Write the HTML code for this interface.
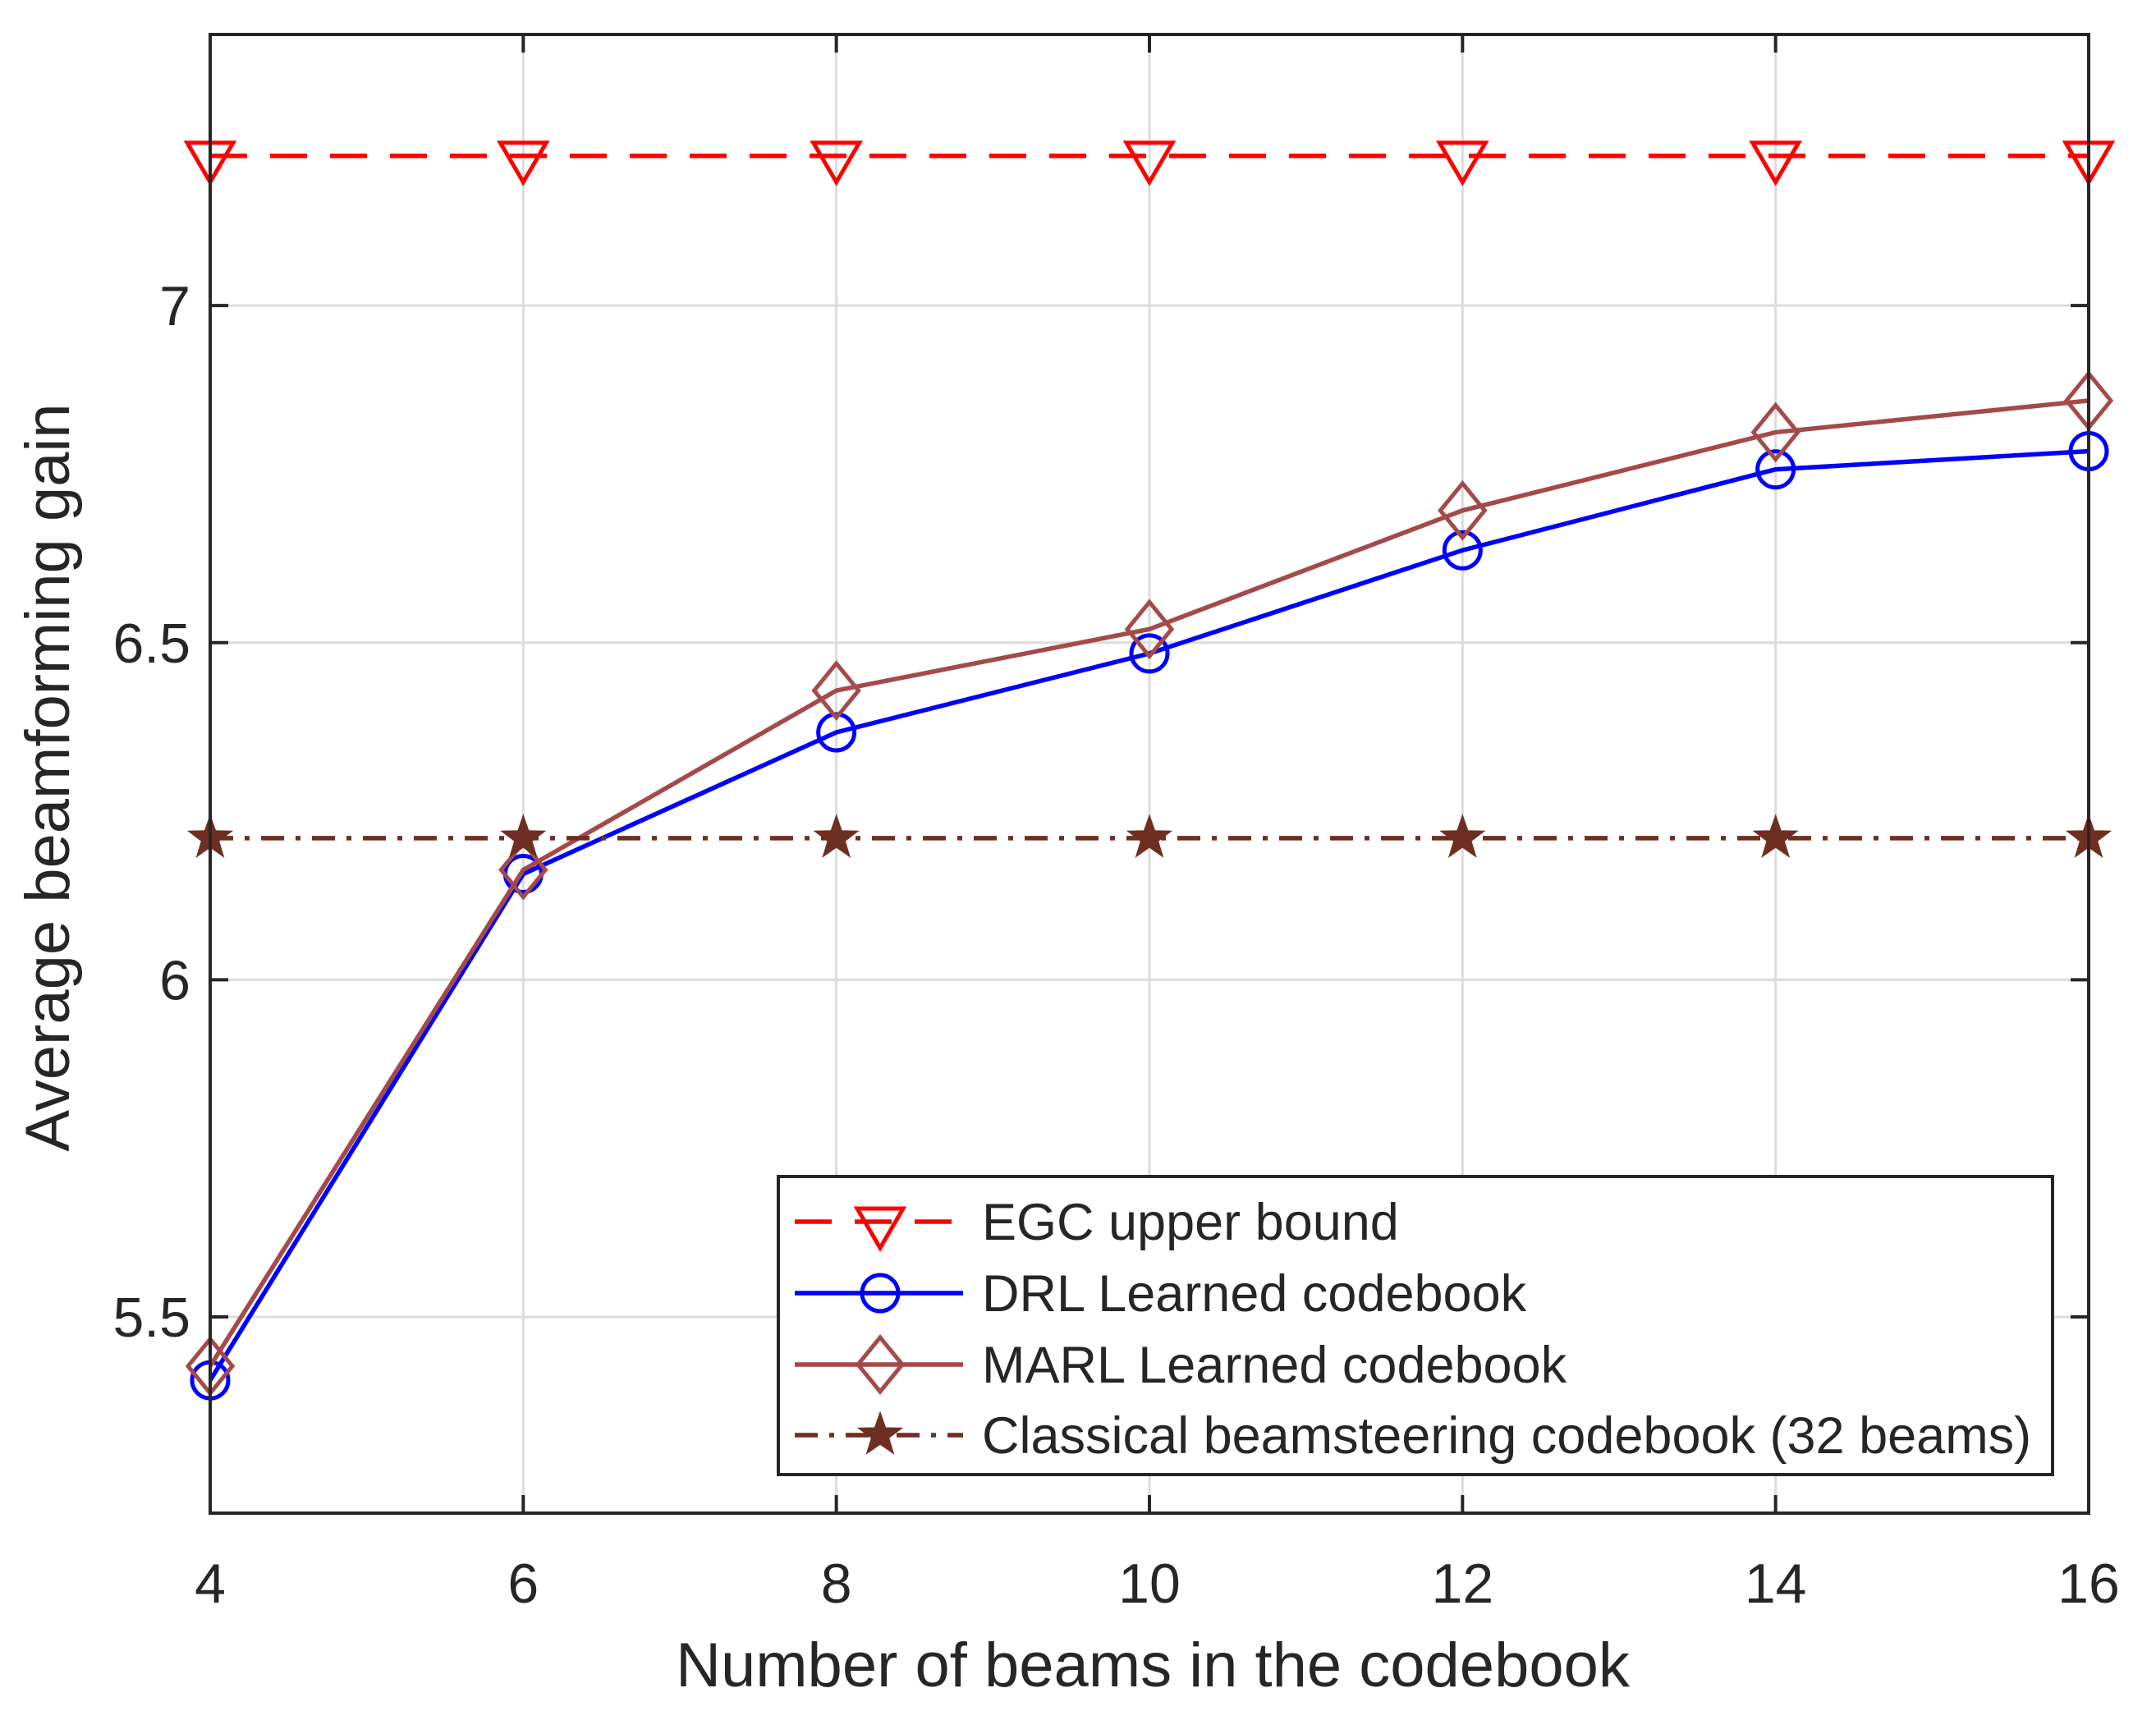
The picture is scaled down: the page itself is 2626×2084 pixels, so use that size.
<!DOCTYPE html>
<html><head><meta charset="utf-8"><style>
body{margin:0;background:#fff}
svg{display:block}
text{font-family:"Liberation Sans",Arial,sans-serif;fill:#262626}
</style></head><body>
<svg id="chart" width="2626" height="2084" xmlns="http://www.w3.org/2000/svg">
<g id="grid"></g>
<g id="series"></g>
<g id="axes"></g>
<text x="1404" y="2054" font-size="76" text-anchor="middle">Number of beams in the codebook</text>
<text transform="translate(84,947) rotate(-90)" font-size="76" text-anchor="middle">Average beamforming gain</text>
<g id="legend"></g>
</svg>
<script>
const xCats=[4,6,8,10,12,14,16];
const yTicks=[5.5,6,6.5,7];
const yTickLabels=["5.5","6","6.5","7"];
const egc=[7.222,7.222,7.222,7.222,7.222,7.222,7.222];
const drl=[5.406,6.157,6.367,6.484,6.637,6.757,6.784];
const marl=[5.427,6.163,6.429,6.520,6.696,6.812,6.859];
const classical=[6.21,6.21,6.21,6.21,6.21,6.21,6.21];
const legendLabels=["EGC upper bound","DRL Learned codebook","MARL Learned codebook","Classical beamsteering codebook (32 beams)"];

const L=256,R=2544,T=42,B=1843,xmin=4,xmax=16,ymin=5.209,ymax=7.402;
const sx=v=>L+(v-xmin)/(xmax-xmin)*(R-L);
const sy=v=>B-(v-ymin)/(ymax-ymin)*(B-T);
const NS="http://www.w3.org/2000/svg";
function mk(tag,attrs,parent){const e=document.createElementNS(NS,tag);for(const k in attrs)e.setAttribute(k,attrs[k]);parent.appendChild(e);return e;}
const grid=document.getElementById('grid'),axes=document.getElementById('axes'),ser=document.getElementById('series'),leg=document.getElementById('legend');

xCats.forEach(v=>{
  const g=mk('line',{x1:sx(v),x2:sx(v),y1:T,y2:B,stroke:'#dcdcdc','stroke-width':3},grid);
  
  
  const t=mk('text',{x:sx(v),y:1952,'font-size':68,'text-anchor':'middle'},axes);
  t.textContent=v;
  
  
  mk('line',{x1:sx(v),x2:sx(v),y1:B,y2:B-22,stroke:'#262626','stroke-width':4},axes);
  mk('line',{x1:sx(v),x2:sx(v),y1:T,y2:T+22,stroke:'#262626','stroke-width':4},axes);
});
yTicks.forEach((v,i)=>{
  const g=mk('line',{x1:L,x2:R,y1:sy(v),y2:sy(v),stroke:'#dcdcdc','stroke-width':3},grid);
  
  
  const t=mk('text',{x:L-24,y:sy(v)+24,'font-size':68,'text-anchor':'end'},axes);
  t.textContent=yTickLabels[i];
  
  
  mk('line',{x1:L,x2:L+22,y1:sy(v),y2:sy(v),stroke:'#262626','stroke-width':4},axes);
  mk('line',{x1:R,x2:R-22,y1:sy(v),y2:sy(v),stroke:'#262626','stroke-width':4},axes);
});
const frame=mk('rect',{x:L,y:T,width:R-L,height:B-T,fill:'none',stroke:'#262626','stroke-width':4},axes);



function marker(type,x,y,color,parent){
  if(type==='tri') return mk('polygon',{points:`${x-28},${y-16} ${x+28},${y-16} ${x},${y+32}`,fill:'none',stroke:color,'stroke-width':5},parent);
  if(type==='circ') return mk('circle',{cx:x,cy:y,r:22,fill:'none',stroke:color,'stroke-width':5},parent);
  if(type==='dia') return mk('polygon',{points:`${x},${y-33} ${x+27},${y} ${x},${y+33} ${x-27},${y}`,fill:'none',stroke:color,'stroke-width':5},parent);
  const pts=[];for(let k=0;k<10;k++){const r=k%2?10:25,a=-Math.PI/2+k*Math.PI/5;pts.push((x+r*Math.cos(a)).toFixed(1)+','+(y+r*Math.sin(a)).toFixed(1));}
  return mk('polygon',{points:pts.join(' '),fill:color,stroke:color,'stroke-width':3},parent);
}
const defs=[
 {d:egc,c:'#ff0000',dash:'45,28',m:'tri',name:'egc-series'},
 {d:drl,c:'#0000ff',dash:'',m:'circ',name:'drl-series'},
 {d:marl,c:'#a44a4a',dash:'',m:'dia',name:'marl-series'},
 {d:classical,c:'#6e2f22',dash:'28,14,6,14',m:'star',name:'classical-series'}];
defs.forEach(s=>{
  const g=mk('g',{},ser);
  
  
  const pl=mk('polyline',{points:s.d.map((v,i)=>sx(xCats[i])+','+sy(v)).join(' '),fill:'none',stroke:s.c,'stroke-width':5.5,'stroke-dasharray':s.dash},g);
  
  
  s.d.forEach((v,i)=>{const mm=marker(s.m,sx(xCats[i]),sy(v),s.c,g);
    
    });
});
const lb=mk('rect',{x:948,y:1433,width:1552,height:363,fill:'#fff',stroke:'#262626','stroke-width':4},leg);


const ly=[1488,1575,1662,1748];
defs.forEach((s,i)=>{
  const g=mk('g',{},leg);
  
  
  mk('line',{x1:968,x2:1173,y1:ly[i],y2:ly[i],stroke:s.c,'stroke-width':5.5,'stroke-dasharray':s.dash},g);
  marker(s.m,1072,ly[i],s.c,g);
  const t=mk('text',{x:1196,y:ly[i]+22,'font-size':63},g);
  t.textContent=legendLabels[i];
});
</script>
</body></html>
